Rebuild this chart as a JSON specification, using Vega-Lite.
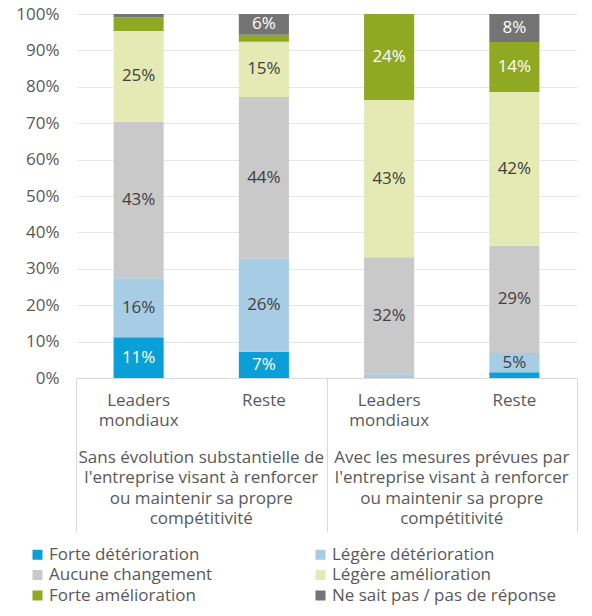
{
  "$schema": "https://vega.github.io/schema/vega-lite/v6.json",
  "width": 501,
  "height": 364,
  "autosize": {"type": "none"},
  "padding": {"left": 76, "top": 14, "right": 15, "bottom": 238},
  "config": {
    "font": "Open Sans",
    "view": {"stroke": null},
    "axis": {"labelFont": "Open Sans", "labelColor": "#595959", "labelFontSize": 17},
    "legend": {"labelFont": "Open Sans"}
  },
  "data": {
    "values": [
      {"g": "Sans évolution substantielle de l'entreprise visant à renforcer ou maintenir sa propre compétitivité", "bar": "Sans : Leaders mondiaux", "seg": "Forte détérioration", "v": 11.2},
      {"g": "Sans évolution substantielle de l'entreprise visant à renforcer ou maintenir sa propre compétitivité", "bar": "Sans : Leaders mondiaux", "seg": "Légère détérioration", "v": 16.2},
      {"g": "Sans évolution substantielle de l'entreprise visant à renforcer ou maintenir sa propre compétitivité", "bar": "Sans : Leaders mondiaux", "seg": "Aucune changement", "v": 43.0},
      {"g": "Sans évolution substantielle de l'entreprise visant à renforcer ou maintenir sa propre compétitivité", "bar": "Sans : Leaders mondiaux", "seg": "Légère amélioration", "v": 24.9},
      {"g": "Sans évolution substantielle de l'entreprise visant à renforcer ou maintenir sa propre compétitivité", "bar": "Sans : Leaders mondiaux", "seg": "Forte amélioration", "v": 3.8},
      {"g": "Sans évolution substantielle de l'entreprise visant à renforcer ou maintenir sa propre compétitivité", "bar": "Sans : Leaders mondiaux", "seg": "Ne sait pas / pas de réponse", "v": 0.9},
      {"g": "Sans évolution substantielle de l'entreprise visant à renforcer ou maintenir sa propre compétitivité", "bar": "Sans : Reste", "seg": "Forte détérioration", "v": 7.2},
      {"g": "Sans évolution substantielle de l'entreprise visant à renforcer ou maintenir sa propre compétitivité", "bar": "Sans : Reste", "seg": "Légère détérioration", "v": 25.6},
      {"g": "Sans évolution substantielle de l'entreprise visant à renforcer ou maintenir sa propre compétitivité", "bar": "Sans : Reste", "seg": "Aucune changement", "v": 44.4},
      {"g": "Sans évolution substantielle de l'entreprise visant à renforcer ou maintenir sa propre compétitivité", "bar": "Sans : Reste", "seg": "Légère amélioration", "v": 15.2},
      {"g": "Sans évolution substantielle de l'entreprise visant à renforcer ou maintenir sa propre compétitivité", "bar": "Sans : Reste", "seg": "Forte amélioration", "v": 1.9},
      {"g": "Sans évolution substantielle de l'entreprise visant à renforcer ou maintenir sa propre compétitivité", "bar": "Sans : Reste", "seg": "Ne sait pas / pas de réponse", "v": 5.7},
      {"g": "Avec les mesures prévues par l'entreprise visant à renforcer ou maintenir sa propre compétitivité", "bar": "Avec : Leaders mondiaux", "seg": "Forte détérioration", "v": 0},
      {"g": "Avec les mesures prévues par l'entreprise visant à renforcer ou maintenir sa propre compétitivité", "bar": "Avec : Leaders mondiaux", "seg": "Légère détérioration", "v": 1.0},
      {"g": "Avec les mesures prévues par l'entreprise visant à renforcer ou maintenir sa propre compétitivité", "bar": "Avec : Leaders mondiaux", "seg": "Aucune changement", "v": 32.2},
      {"g": "Avec les mesures prévues par l'entreprise visant à renforcer ou maintenir sa propre compétitivité", "bar": "Avec : Leaders mondiaux", "seg": "Légère amélioration", "v": 43.2},
      {"g": "Avec les mesures prévues par l'entreprise visant à renforcer ou maintenir sa propre compétitivité", "bar": "Avec : Leaders mondiaux", "seg": "Forte amélioration", "v": 23.6},
      {"g": "Avec les mesures prévues par l'entreprise visant à renforcer ou maintenir sa propre compétitivité", "bar": "Avec : Leaders mondiaux", "seg": "Ne sait pas / pas de réponse", "v": 0},
      {"g": "Avec les mesures prévues par l'entreprise visant à renforcer ou maintenir sa propre compétitivité", "bar": "Avec : Reste", "seg": "Forte détérioration", "v": 1.6},
      {"g": "Avec les mesures prévues par l'entreprise visant à renforcer ou maintenir sa propre compétitivité", "bar": "Avec : Reste", "seg": "Légère détérioration", "v": 5.3},
      {"g": "Avec les mesures prévues par l'entreprise visant à renforcer ou maintenir sa propre compétitivité", "bar": "Avec : Reste", "seg": "Aucune changement", "v": 29.4},
      {"g": "Avec les mesures prévues par l'entreprise visant à renforcer ou maintenir sa propre compétitivité", "bar": "Avec : Reste", "seg": "Légère amélioration", "v": 42.3},
      {"g": "Avec les mesures prévues par l'entreprise visant à renforcer ou maintenir sa propre compétitivité", "bar": "Avec : Reste", "seg": "Forte amélioration", "v": 13.7},
      {"g": "Avec les mesures prévues par l'entreprise visant à renforcer ou maintenir sa propre compétitivité", "bar": "Avec : Reste", "seg": "Ne sait pas / pas de réponse", "v": 7.7}
    ]
  },
  "transform": [
    {"calculate": "indexof(['Forte détérioration','Légère détérioration','Aucune changement','Légère amélioration','Forte amélioration','Ne sait pas / pas de réponse'], datum.seg)", "as": "k"},
    {"stack": "v", "groupby": ["bar"], "sort": [{"field": "k", "order": "ascending"}], "as": ["y0", "y1"]},
    {"calculate": "(datum.y0 + datum.y1) / 2", "as": "ym"},
    {"calculate": "format(datum.v, '.0f') + '%'", "as": "lbl"}
  ],
  "layer": [
    {
      "mark": {"type": "bar"},
      "encoding": {
        "x": {
          "field": "bar", "type": "nominal",
          "scale": {"type": "band", "domain": ["Sans : Leaders mondiaux", "Sans : Reste", "Avec : Leaders mondiaux", "Avec : Reste"], "paddingInner": 0.6, "paddingOuter": 0.3},
          "axis": {"title": null, "domain": true, "domainColor": "#d9d9d9", "domainWidth": 1, "ticks": false, "grid": false, "labelAngle": 0,
                   "labelExpr": "test(/Leaders/, datum.value) ? ['Leaders', 'mondiaux'] : 'Reste'",
                   "labelPadding": 14, "labelLineHeight": 20.5, "labelLimit": 200}
        },
        "y": {
          "field": "y0", "type": "quantitative",
          "scale": {"domain": [0, 100], "nice": false},
          "axis": {"title": null, "values": [0, 10, 20, 30, 40, 50, 60, 70, 80, 90, 100], "labelExpr": "datum.value + '%'", "labelOverlap": false,
                   "grid": true, "gridColor": "#e6e6e6", "gridWidth": 1, "domain": false, "ticks": false, "labelPadding": 17}
        },
        "y2": {"field": "y1"},
        "color": {
          "field": "seg", "type": "nominal",
          "scale": {
            "domain": ["Forte détérioration", "Légère détérioration", "Aucune changement", "Légère amélioration", "Forte amélioration", "Ne sait pas / pas de réponse"],
            "range": ["#0a9fd6", "#a6cde5", "#c9c9c9", "#e4eab3", "#91a823", "#747474"]
          },
          "legend": {
            "orient": "none", "legendX": -47, "legendY": 532, "columns": 2, "direction": "horizontal", "title": null,
            "symbolType": "square", "symbolSize": 100, "symbolStrokeWidth": 0,
            "labelFontSize": 17, "labelColor": "#595959", "labelOffset": 3, "labelLimit": 400,
            "columnPadding": 99, "rowPadding": 2.5, "padding": 0
          }
        }
      }
    },
    {
      "transform": [{"filter": "datum.v >= 5"}],
      "mark": {"type": "text", "fontSize": 17, "baseline": "middle", "align": "center"},
      "encoding": {
        "x": {"field": "bar", "type": "nominal",
              "scale": {"type": "band", "domain": ["Sans : Leaders mondiaux", "Sans : Reste", "Avec : Leaders mondiaux", "Avec : Reste"], "paddingInner": 0.6, "paddingOuter": 0.3},
              "axis": null},
        "y": {"field": "ym", "type": "quantitative", "scale": {"domain": [0, 100], "nice": false}, "axis": null},
        "text": {"field": "lbl", "type": "nominal"},
        "color": {
          "condition": {"test": "datum.seg === 'Forte détérioration' || datum.seg === 'Forte amélioration' || datum.seg === 'Ne sait pas / pas de réponse'", "value": "#ffffff"},
          "value": "#404040"
        }
      }
    },
    {
      "mark": {"type": "rule", "opacity": 0},
      "encoding": {
        "x": {
          "field": "g", "type": "nominal",
          "scale": {"type": "band", "domain": ["Sans évolution substantielle de l'entreprise visant à renforcer ou maintenir sa propre compétitivité", "Avec les mesures prévues par l'entreprise visant à renforcer ou maintenir sa propre compétitivité"], "paddingInner": 0, "paddingOuter": 0},
          "axis": {
            "orient": "bottom", "title": null, "domain": false, "grid": false, "ticks": true, "tickBand": "extent",
            "tickSize": 154, "tickColor": "#d9d9d9", "tickWidth": 1, "labels": false
          }
        }
      }
    },
    {
      "mark": {"type": "rule", "opacity": 0},
      "encoding": {
        "x": {
          "field": "g", "type": "nominal",
          "scale": {"type": "band", "domain": ["Sans évolution substantielle de l'entreprise visant à renforcer ou maintenir sa propre compétitivité", "Avec les mesures prévues par l'entreprise visant à renforcer ou maintenir sa propre compétitivité"], "paddingInner": 0, "paddingOuter": 0},
          "axis": {
            "orient": "bottom", "title": null, "domain": false, "grid": false, "ticks": false, "labelAngle": 0,
            "labelExpr": "test(/^Sans/, datum.value) ? ['Sans évolution substantielle de', \"l'entreprise visant à renforcer\", 'ou maintenir sa propre', 'compétitivité'] : ['Avec les mesures prévues par', \"l'entreprise visant à renforcer\", 'ou maintenir sa propre', 'compétitivité']",
            "labelPadding": 71, "labelLineHeight": 20.5, "labelLimit": 300
          }
        }
      }
    }
  ],
  "resolve": {"scale": {"x": "independent", "y": "independent"}, "axis": {"x": "independent", "y": "independent"}}
}
